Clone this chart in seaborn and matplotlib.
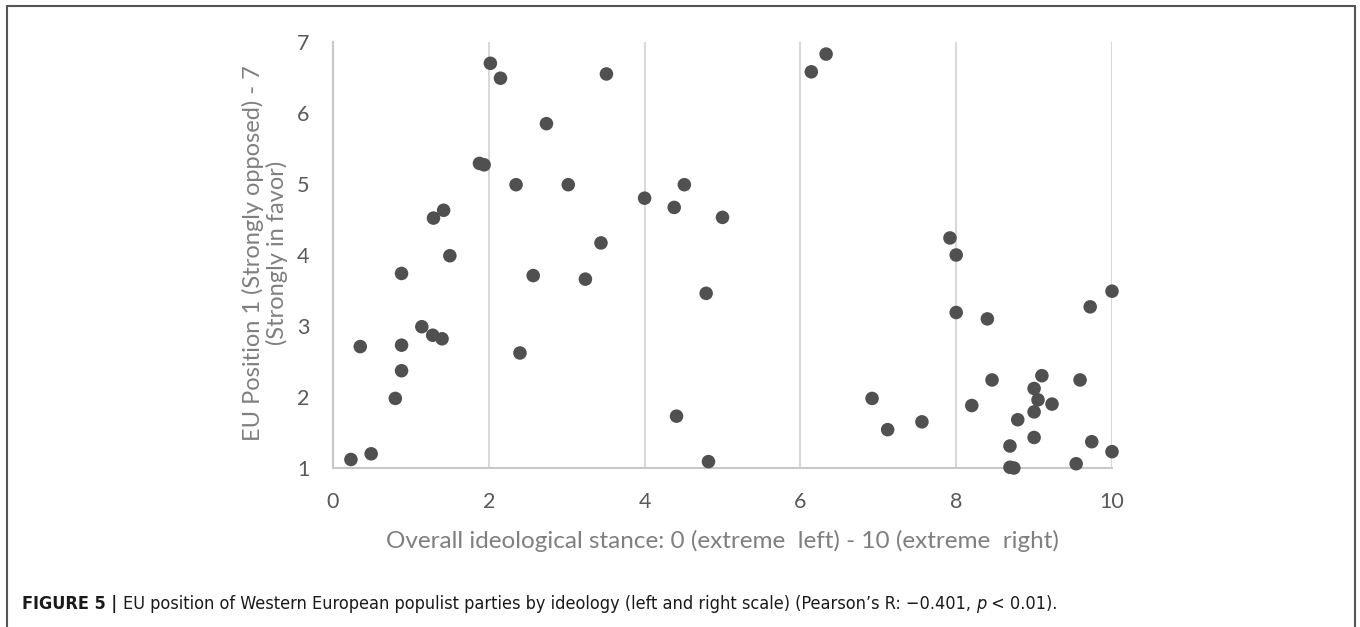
import matplotlib
matplotlib.use("Agg")
import matplotlib.pyplot as plt
from matplotlib.lines import Line2D
import pandas as pd
import seaborn as sns

# ideology (0 = extreme left, 10 = extreme right) and EU position (1..7)
ideology = [
    2.02, 2.15, 3.51, 2.74, 1.88, 1.94, 2.35, 3.02, 4.51, 4.00,
    4.38, 5.00, 1.29, 1.42, 3.44, 1.50, 0.88, 2.57, 3.24, 4.79,
    1.14, 1.28, 1.40, 0.35, 0.88, 2.40, 0.88, 0.80, 4.41, 0.23,
    0.49, 4.82,
    6.33, 6.14, 7.92, 8.00, 10.00, 9.72, 8.00, 8.40, 8.46, 9.10,
    9.59, 9.00, 9.05, 9.23, 8.20, 9.00, 6.92, 7.56, 7.12, 8.79,
    9.00, 8.69, 9.74, 10.00, 9.54, 8.69, 8.74,
]
eu_position = [
    6.70, 6.49, 6.55, 5.85, 5.29, 5.27, 4.99, 4.99, 4.99, 4.80,
    4.67, 4.53, 4.52, 4.63, 4.17, 3.99, 3.74, 3.71, 3.66, 3.46,
    2.99, 2.87, 2.82, 2.71, 2.73, 2.62, 2.37, 1.98, 1.73, 1.12,
    1.20, 1.09,
    6.83, 6.58, 4.24, 4.00, 3.49, 3.27, 3.19, 3.10, 2.24, 2.30,
    2.24, 2.12, 1.96, 1.90, 1.88, 1.79, 1.98, 1.65, 1.54, 1.68,
    1.43, 1.31, 1.37, 1.23, 1.06, 1.01, 1.00,
]
x_ticks = [0, 2, 4, 6, 8, 10]
y_ticks = [1, 2, 3, 4, 5, 6, 7]

df = pd.DataFrame({"ideology": ideology, "eu": eu_position})

sns.set_style("white")
plt.rcParams["font.family"] = ["Lato", "DejaVu Sans"]

W, H = 1360, 627
fig = plt.figure(figsize=(W / 100, H / 100), dpi=100)
ax = fig.add_axes([333 / W, 1 - 468 / H, (1112 - 333) / W, (468 - 42) / H])

sns.scatterplot(data=df, x="ideology", y="eu", ax=ax, s=95, color="#505050",
                edgecolor="none", clip_on=False, zorder=3)

ax.set_xlim(0, 10)
ax.set_ylim(1, 7)
ax.set_xticks(x_ticks)
ax.set_yticks(y_ticks)
ax.set_xlabel("")
ax.set_ylabel("")
ax.tick_params(axis="both", length=0, labelsize=15.5, labelcolor="#595959")
ax.tick_params(axis="x", pad=17)
ax.tick_params(axis="y", pad=17)
ax.xaxis.grid(True, color="#d9d9d9", linewidth=1.5)
ax.yaxis.grid(False)
for side in ["top", "right"]:
    ax.spines[side].set_visible(False)
for side in ["left", "bottom"]:
    ax.spines[side].set_color("#c8c8c8")
    ax.spines[side].set_linewidth(1.5)

fig.text(265 / W, 1 - 253 / H,
         "EU Position 1 (Strongly opposed) - 7\n(Strongly in favor)",
         rotation=90, ha="center", va="center", multialignment="center",
         fontsize=17, color="#7f7f7f", linespacing=1.1)
fig.text(722 / W, 1 - 541 / H,
         "Overall ideological stance: 0 (extreme  left) - 10 (extreme  right)",
         ha="center", va="center", fontsize=17.5, color="#7f7f7f")

# caption, drawn piece by piece so the bold / italic parts follow each other
pieces = [
    ("FIGURE 5 | ", "bold", "normal"),
    ("EU position of Western European populist parties by ideology "
     "(left and right scale) (Pearson\u2019s R: \u22120.401, ", "normal", "normal"),
    ("p", "normal", "italic"),
    (" < 0.01).", "normal", "normal"),
]
renderer = fig.canvas.get_renderer()
x0 = 22 / W
y0 = 1 - 604 / H
for txt, weight, style in pieces:
    t = fig.text(x0, y0, txt, ha="left", va="center", fontsize=13,
                 family=["DejaVu Sans"], stretch="condensed",
                 weight=weight, style=style, color="#1a1a1a")
    bb = t.get_window_extent(renderer=renderer)
    x0 += bb.width / W

# frame around the figure panel (open at the bottom)
frame = dict(color="#555555", linewidth=1.5, transform=fig.transFigure)
fig.add_artist(Line2D([7 / W, 1355 / W], [1 - 6 / H, 1 - 6 / H], **frame))
fig.add_artist(Line2D([7 / W, 7 / W], [0, 1 - 6 / H], **frame))
fig.add_artist(Line2D([1355 / W, 1355 / W], [0, 1 - 6 / H], **frame))

fig.savefig("out.png", dpi=100)
